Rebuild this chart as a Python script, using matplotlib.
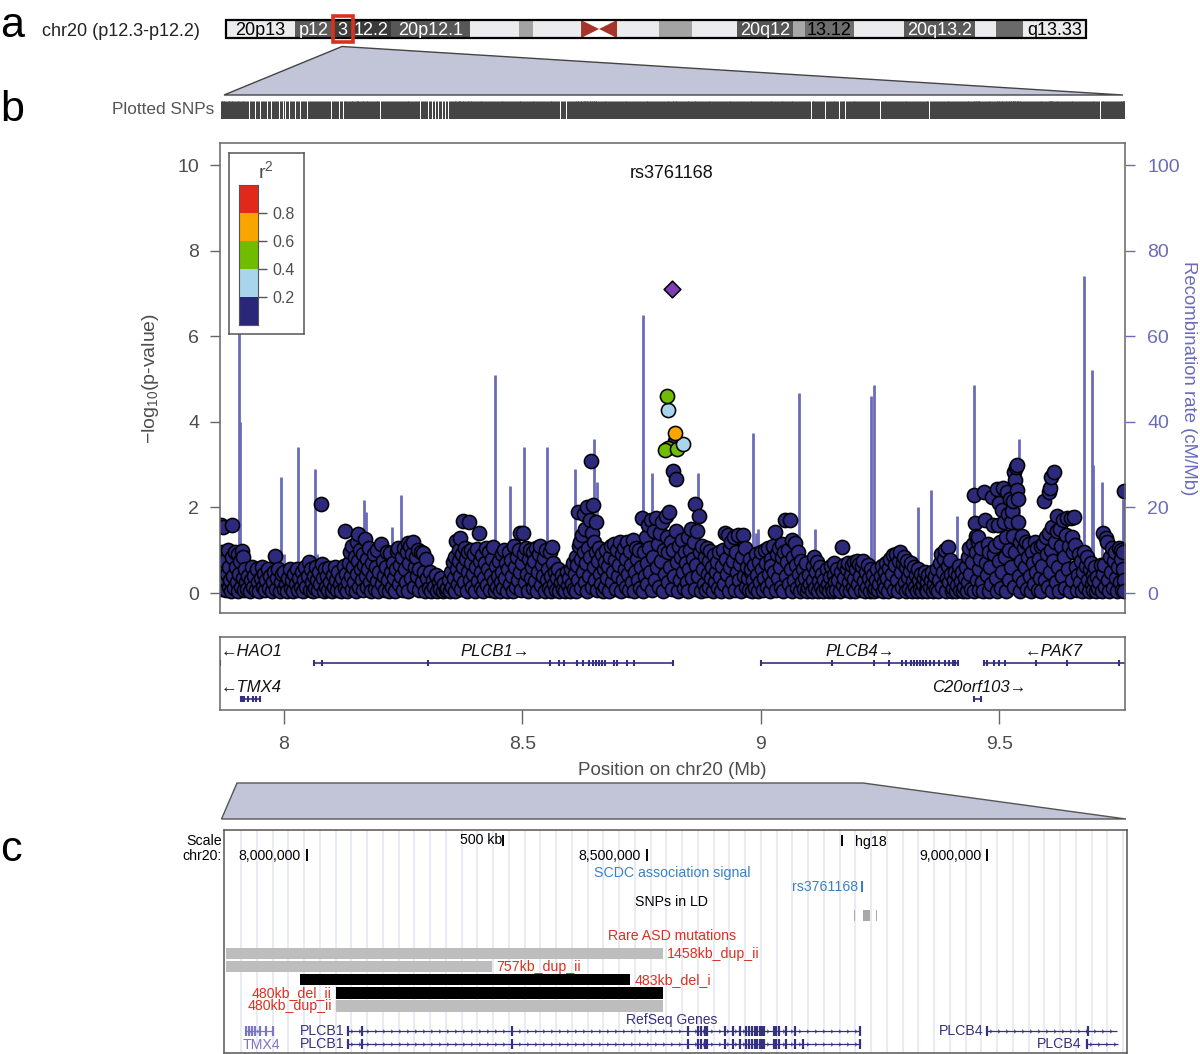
import numpy as np
import matplotlib
matplotlib.use("Agg")
import matplotlib.pyplot as plt
from matplotlib.patches import Rectangle, Polygon

plt.rcParams['font.family'] = ['Liberation Sans', 'DejaVu Sans']
plt.rcParams['mathtext.fontset'] = 'custom'
plt.rcParams['mathtext.rm'] = 'Liberation Sans'
plt.rcParams['mathtext.it'] = 'Liberation Sans:italic'

W, H = 1200, 1054

# ---------- data ----------
snps_1 = [(7.867,1.6),(7.869,.95),(7.870,.35),(7.871,.1),(7.872,1.54),(7.874,.6),(7.875,.25),(7.877,.75),(7.879,.08),(7.880,.45),(7.882,1.0),(7.884,.15),(7.885,.6),(7.887,.3),(7.889,.05),(7.891,1.59),(7.892,.85),(7.894,.4),(7.896,.12),(7.897,.95),(7.899,.6),(7.901,.25),(7.903,.05),(7.904,.9),(7.906,.45),(7.908,.75),(7.910,.15),(7.912,.98),(7.913,.35),(7.915,.85),(7.917,.08),(7.919,.55),(7.921,.25),(7.923,.1),(7.925,.4),(7.928,.05),(7.930,.3),(7.933,.6),(7.935,.15),(7.938,.4),(7.941,.08),(7.943,.55),(7.946,.25),(7.948,.05),(7.951,.35),(7.953,.6),(7.956,.15),(7.958,.45),(7.961,.08),(7.963,.3),(7.966,.55),(7.968,.12),(7.971,.4),(7.974,.05),(7.976,.25),(7.979,.5),(7.981,.86),(7.983,.1),(7.986,.35),(7.988,.55),(7.991,.05),(7.993,.25),(7.996,.45),(7.999,.1),(8.001,.5),(8.004,.2),(8.006,.05),(8.009,.35),(8.012,.55),(8.014,.12),(8.017,.3),(8.019,.05),(8.022,.45),(8.025,.2),(8.027,.55),(8.030,.08),(8.032,.35),(8.035,.15),(8.037,.5),(8.040,.05),(8.042,.3),(8.045,.6),(8.047,.15),(8.050,.4),(8.052,.72),(8.054,.08),(8.056,.55),(8.059,.25)]
snps_2 = [(8.061,.05),(8.063,.4),(8.065,.12),(8.067,.6),(8.069,.3),(8.071,.08),(8.073,.5),(8.075,.2),(8.077,2.08),(8.079,.68),(8.081,.35),(8.083,.05),(8.086,.55),(8.088,.15),(8.090,.4),(8.093,.08),(8.095,.58),(8.097,.25),(8.100,.05),(8.102,.42),(8.105,.15),(8.107,.6),(8.110,.3),(8.112,.08),(8.114,.5),(8.117,.2),(8.119,.05),(8.122,.35),(8.125,.62),(8.127,1.45),(8.128,.12),(8.130,.45),(8.133,.05),(8.135,.25),(8.137,.7),(8.139,.95),(8.140,.4),(8.142,.1),(8.143,1.1),(8.145,.6),(8.147,.25),(8.148,.85),(8.150,.05),(8.152,1.2),(8.153,.45),(8.155,1.38),(8.156,.75),(8.158,.15),(8.160,1.0),(8.161,.55),(8.163,.3),(8.165,.9),(8.166,.08),(8.168,.65),(8.170,1.26),(8.171,.4),(8.173,.8),(8.175,.15),(8.177,.55),(8.178,1.05),(8.180,.25),(8.182,.05),(8.184,.7),(8.186,.4),(8.188,.9),(8.190,.1),(8.192,.6),(8.194,.28),(8.196,1.0),(8.198,.05),(8.200,.5),(8.203,1.14),(8.205,.2),(8.207,.75),(8.209,.4),(8.212,.08),(8.214,.6),(8.216,.95),(8.218,.3),(8.220,.05),(8.222,.93),(8.224,.5),(8.226,.15),(8.228,.7),(8.231,.35),(8.233,.05),(8.235,.55),(8.237,.98),(8.239,1.05),(8.241,.2),(8.243,.65),(8.245,.4),(8.247,.85),(8.249,.08),(8.251,1.05),(8.253,.55),(8.255,.25),(8.257,.95),(8.260,1.17),(8.261,.05),(8.263,.7),(8.265,1.1),(8.267,.35),(8.269,.9),(8.270,1.19),(8.272,.15),(8.274,.6),(8.276,.85),(8.278,.4),(8.280,1.0),(8.282,.08),(8.284,.55),(8.287,.95),(8.289,.25),(8.291,.93),(8.293,.5),(8.295,.05),(8.298,.8),(8.300,.35)]
snps_3 = [(8.303,.12),(8.306,.5),(8.309,.05),(8.312,.3),(8.315,.15),(8.318,.42),(8.321,.05),(8.324,.25),(8.327,.1),(8.330,.36),(8.333,.05),(8.336,.2),(8.339,.08),(8.342,.12),(8.345,.3),(8.348,.05),(8.350,.5),(8.352,.15),(8.354,.72),(8.356,.35),(8.358,.85),(8.359,.05),(8.361,1.22),(8.362,.55),(8.364,.2),(8.366,.75),(8.367,1.0),(8.369,1.28),(8.370,.4),(8.372,.1),(8.373,.9),(8.375,1.68),(8.376,.6),(8.378,.25),(8.380,1.05),(8.381,.8),(8.383,.05),(8.385,.5),(8.386,.95),(8.388,1.66),(8.389,.3),(8.391,.7),(8.393,1.0),(8.394,.15),(8.396,.45),(8.398,.9),(8.400,.05),(8.402,.6),(8.404,1.02),(8.406,.28),(8.409,1.4),(8.410,.75),(8.412,.12),(8.414,.5),(8.416,.88),(8.418,.05),(8.420,.35),(8.422,.7),(8.424,1.05),(8.426,.18),(8.428,.55),(8.430,.95),(8.432,.08),(8.434,.42),(8.436,.8),(8.438,1.07),(8.440,.28),(8.442,.05),(8.444,.62),(8.446,.15),(8.448,.4),(8.450,.75),(8.452,.05),(8.454,.25),(8.456,.9),(8.458,.5),(8.460,.12),(8.462,1.0),(8.464,.35),(8.466,.7),(8.468,.05),(8.470,.55),(8.472,.95),(8.474,.2),(8.476,.78),(8.478,.4),(8.480,.05),(8.482,1.1),(8.484,.6),(8.486,.15),(8.488,.85),(8.490,.3),(8.492,1.0),(8.494,.5),(8.495,1.4),(8.497,.08),(8.499,.7),(8.501,1.4),(8.503,.92),(8.505,.25),(8.507,1.05),(8.509,.45),(8.511,.05),(8.513,.8),(8.515,1.0),(8.517,.35),(8.519,.6),(8.521,.12),(8.523,.95),(8.525,.75),(8.527,.28),(8.529,1.05),(8.531,.05),(8.533,.5),(8.535,.9),(8.537,1.1),(8.539,.18),(8.541,.65),(8.543,.4),(8.545,.82),(8.547,.05),(8.549,1.0),(8.551,.3)]
snps_4 = [(8.553,.55),(8.555,.12),(8.557,.95),(8.559,.4),(8.560,.05),(8.562,1.07),(8.564,.7),(8.566,.2),(8.568,.5),(8.570,.08),(8.572,.35),(8.575,.55),(8.577,.05),(8.580,.25),(8.582,.42),(8.585,.1),(8.588,.3),(8.590,.05),(8.593,.5),(8.595,.18),(8.598,.36),(8.600,.05),(8.602,.55),(8.604,.22),(8.606,.7),(8.608,.1),(8.610,.45),(8.612,.85),(8.613,.05),(8.615,.65),(8.616,1.9),(8.617,.3),(8.619,1.1),(8.620,1.2),(8.622,.8),(8.623,.12),(8.625,1.35),(8.626,.5),(8.628,.95),(8.629,1.85),(8.630,.25),(8.632,1.5),(8.633,.7),(8.635,2.0),(8.636,.05),(8.638,1.05),(8.639,.4),(8.641,1.7),(8.642,.85),(8.644,3.08),(8.645,.15),(8.646,1.4),(8.648,2.05),(8.649,.6),(8.650,1.2),(8.652,.3),(8.654,1.66),(8.655,.95),(8.656,.08),(8.658,.75),(8.660,1.05),(8.662,.45),(8.664,.2),(8.666,.9),(8.668,.05),(8.670,.55),(8.672,.72),(8.674,.15),(8.676,1.0),(8.678,.35),(8.680,.62),(8.682,.05),(8.684,.85),(8.686,1.1),(8.688,.25),(8.690,.5),(8.692,1.15),(8.694,.78),(8.696,.1),(8.698,1.0),(8.700,.4),(8.702,.65),(8.704,1.18),(8.706,.05),(8.708,.9),(8.710,.3),(8.712,1.05),(8.714,.55),(8.716,.15),(8.718,.8),(8.720,1.2),(8.722,.45),(8.724,.08),(8.726,.98),(8.728,.65),(8.730,.25),(8.732,1.25),(8.734,.05),(8.736,.5),(8.738,1.05),(8.740,.8),(8.742,.3),(8.744,1.0),(8.746,.12),(8.748,.6),(8.750,1.75),(8.752,.05),(8.754,.95),(8.756,.4),(8.758,1.3),(8.760,.7),(8.762,.2),(8.764,1.6),(8.766,1.05),(8.768,.5),(8.770,1.7),(8.772,.08),(8.774,.85),(8.776,1.45),(8.778,.3),(8.780,1.75),(8.782,.6),(8.784,1.15),(8.786,.15),(8.788,1.4),(8.790,.75),(8.792,1.65),(8.794,.05),(8.796,1.0),(8.798,.45),(8.800,1.8),(8.802,1.3)]
snps_5 = [(8.804,.25),(8.806,.95),(8.808,1.9),(8.810,.6),(8.812,1.2),(8.813,.1),(8.815,2.85),(8.816,1.0),(8.818,.4),(8.820,3.55),(8.821,2.66),(8.822,1.45),(8.824,.72),(8.826,.05),(8.828,1.1),(8.830,.3),(8.832,.85),(8.834,1.25),(8.836,.5),(8.838,.12),(8.840,.95),(8.842,.7),(8.844,.25),(8.846,1.3),(8.848,.05),(8.850,.55),(8.852,1.0),(8.853,1.5),(8.855,.35),(8.857,.8),(8.859,1.2),(8.861,.1),(8.862,2.08),(8.864,.65),(8.866,1.45),(8.868,.4),(8.870,1.8),(8.872,.95),(8.874,.05),(8.876,1.1),(8.878,.55),(8.880,.22),(8.882,.85),(8.884,.08),(8.886,1.05),(8.888,.45),(8.890,.75),(8.892,.15),(8.894,.98),(8.896,.35),(8.898,.6),(8.900,.05),(8.902,.88),(8.904,.25),(8.906,.5),(8.908,.72),(8.910,.12),(8.912,.95),(8.914,.38),(8.916,.05),(8.918,.62),(8.920,1.0),(8.922,.2),(8.924,1.4),(8.926,.8),(8.928,.45),(8.930,1.35),(8.932,.05),(8.934,1.05),(8.936,.6),(8.938,1.2),(8.940,.25),(8.942,.75),(8.944,1.3),(8.946,.08),(8.948,.95),(8.950,.5),(8.952,1.35),(8.954,.3),(8.956,.68),(8.958,.05),(8.960,.85),(8.962,1.35),(8.964,.4),(8.966,1.05),(8.968,.15),(8.970,.6),(8.972,.35),(8.974,.08),(8.976,.8),(8.978,.5),(8.980,.55),(8.982,.05),(8.984,.3),(8.986,.65),(8.988,.12),(8.990,.9),(8.992,.42),(8.994,.05),(8.996,.72),(8.998,.25)]
snps_6 = [(9.000,.95),(9.002,.55),(9.004,.08),(9.006,.35),(9.008,1.0),(9.010,.7),(9.012,.15),(9.014,1.05),(9.016,.45),(9.018,.05),(9.020,.8),(9.022,.62),(9.024,.25),(9.026,1.1),(9.028,.5),(9.029,1.43),(9.031,.08),(9.033,.9),(9.035,.35),(9.037,1.05),(9.039,.6),(9.041,.15),(9.043,.85),(9.045,1.15),(9.047,.05),(9.049,.95),(9.051,1.7),(9.053,.4),(9.055,.72),(9.057,1.0),(9.059,.22),(9.060,1.7),(9.062,.55),(9.064,1.25),(9.066,.05),(9.068,.85),(9.070,.3),(9.072,1.17),(9.074,.65),(9.076,.12),(9.078,.95),(9.080,.45),(9.082,.05),(9.084,.75),(9.086,.25),(9.088,.55),(9.090,.1),(9.092,.35),(9.094,.7),(9.096,.05),(9.098,.15),(9.100,.42),(9.103,.2),(9.106,.05),(9.108,.3),(9.110,.62),(9.112,.85),(9.114,.12),(9.116,.5),(9.118,.72),(9.120,.05),(9.122,.28),(9.124,.6),(9.126,.15),(9.128,.45),(9.131,.05),(9.133,.3),(9.136,.12),(9.138,.55),(9.140,.22),(9.142,.05),(9.144,.38),(9.146,.62),(9.148,.15),(9.150,.05),(9.152,.42),(9.154,.7),(9.156,.25),(9.158,.08),(9.160,.55),(9.162,.3),(9.165,.05),(9.167,.5),(9.169,1.07),(9.171,.18),(9.173,.65),(9.175,.35),(9.178,.08),(9.180,.55),(9.182,.7),(9.184,.25),(9.186,.05),(9.188,.42),(9.190,.65),(9.192,.15),(9.194,.72),(9.196,.32),(9.198,.05),(9.200,.55),(9.202,.75),(9.204,.2),(9.206,.68),(9.208,.4),(9.210,.08),(9.212,.62),(9.214,.75),(9.216,.28),(9.218,.05),(9.220,.5),(9.222,.15),(9.224,.65),(9.226,.35),(9.228,.05),(9.230,.55),(9.232,.22),(9.234,.42),(9.236,.05),(9.238,.12),(9.241,.3),(9.244,.55),(9.246,.08),(9.248,.2)]
snps_7 = [(9.251,.4),(9.253,.62),(9.255,.05),(9.257,.25),(9.259,.5),(9.261,.12),(9.263,.7),(9.265,.35),(9.267,.05),(9.269,.58),(9.271,.8),(9.273,.2),(9.275,.45),(9.277,.88),(9.279,.08),(9.281,.65),(9.283,.92),(9.285,.3),(9.287,.05),(9.289,.75),(9.291,.95),(9.293,.5),(9.295,.15),(9.297,.7),(9.299,.85),(9.301,.25),(9.303,.05),(9.305,.6),(9.307,.75),(9.309,.38),(9.311,.1),(9.313,.52),(9.315,.7),(9.317,.05),(9.319,.28),(9.321,.6),(9.323,.15),(9.325,.42),(9.327,.05),(9.329,.55),(9.331,.3),(9.333,.1),(9.335,.45),(9.337,.05),(9.339,.2),(9.341,.35),(9.343,.5),(9.345,.08),(9.347,.25),(9.349,.05),(9.351,.42),(9.354,.15),(9.356,.3),(9.358,.5),(9.360,.05),(9.362,.22),(9.364,.4),(9.367,.1),(9.369,.55),(9.371,.05),(9.373,.3),(9.375,.7),(9.377,.9),(9.379,.15),(9.381,.5),(9.383,.8),(9.385,1.0),(9.387,.05),(9.389,.35),(9.391,.62),(9.393,1.07),(9.395,.25),(9.397,.78),(9.399,.45),(9.401,.05),(9.403,.12),(9.405,.3),(9.407,.5),(9.409,.05),(9.411,.18),(9.413,.42),(9.415,.62),(9.417,.08),(9.419,.28),(9.421,.5),(9.423,.05),(9.425,.15),(9.427,.35),(9.429,.6),(9.431,.05),(9.433,.25),(9.435,.85),(9.437,1.05),(9.439,.45),(9.441,.1),(9.443,.72),(9.445,1.15),(9.446,.05),(9.447,2.29),(9.448,1.63),(9.450,1.33),(9.451,.95),(9.452,.3),(9.454,1.2),(9.455,1.3),(9.456,.55),(9.458,.08),(9.460,.8),(9.462,1.05),(9.464,.25),(9.466,.05),(9.467,2.36),(9.469,1.7),(9.471,.7),(9.473,.42),(9.475,1.15),(9.477,.05),(9.479,.95),(9.481,.6),(9.483,.2),(9.485,2.25),(9.486,1.6),(9.488,.9),(9.490,1.1),(9.492,.35),(9.494,.05),(9.495,2.43),(9.496,1.6),(9.498,.75),(9.500,2.1)]
snps_8 = [(9.502,1.2),(9.503,.12),(9.505,1.95),(9.506,.5),(9.508,2.45),(9.509,1.66),(9.511,.85),(9.513,1.3),(9.514,.05),(9.516,2.35),(9.517,1.85),(9.519,1.0),(9.520,.3),(9.522,2.2),(9.524,1.66),(9.525,.6),(9.527,1.92),(9.528,2.15),(9.529,1.33),(9.530,.15),(9.531,2.83),(9.532,2.65),(9.533,.95),(9.534,2.95),(9.536,3.0),(9.537,2.4),(9.538,2.2),(9.539,1.66),(9.540,.4),(9.542,1.2),(9.544,.05),(9.546,.75),(9.548,1.33),(9.550,.25),(9.552,1.05),(9.554,.6),(9.556,1.2),(9.558,.1),(9.560,.85),(9.562,1.15),(9.564,.4),(9.566,.05),(9.568,.95),(9.570,.7),(9.572,.22),(9.574,1.2),(9.576,.5),(9.578,1.05),(9.580,.08),(9.582,.8),(9.584,.35),(9.586,1.1),(9.588,.05),(9.590,.62),(9.592,1.14),(9.593,2.15),(9.595,.3),(9.597,1.3),(9.599,.9),(9.601,.15),(9.603,1.4),(9.604,2.36),(9.605,.5),(9.606,2.45),(9.607,1.0),(9.608,2.7),(9.610,.05),(9.611,1.55),(9.613,.75),(9.614,2.83),(9.616,1.2),(9.618,.25),(9.620,1.45),(9.621,1.8),(9.623,.6),(9.625,.05),(9.627,1.5),(9.629,1.1),(9.631,.4),(9.633,1.7),(9.635,.85),(9.637,.12),(9.639,1.35),(9.641,1.75),(9.643,.55),(9.645,1.1),(9.647,.05),(9.649,1.75),(9.651,1.3),(9.653,.3),(9.655,.95),(9.657,1.78),(9.659,1.12),(9.661,.6),(9.663,.08),(9.665,.42),(9.667,.9),(9.669,.25),(9.671,.75),(9.673,.05),(9.675,.5),(9.677,.95),(9.679,.15),(9.681,.62),(9.683,.85),(9.685,.3),(9.687,.05),(9.689,.55),(9.691,.7),(9.693,.2),(9.695,.42),(9.697,.08),(9.699,.3),(9.701,.6),(9.703,.05),(9.705,.38),(9.707,.12),(9.709,.25),(9.712,.65),(9.714,.05),(9.716,.45),(9.718,1.4),(9.720,.65),(9.722,.15),(9.724,1.28),(9.726,1.19),(9.728,.3),(9.730,.05),(9.732,.85),(9.734,.5),(9.736,1.05),(9.738,.12),(9.740,.75),(9.742,.95),(9.744,.35),(9.746,.05),(9.748,.6),(9.750,1.05),(9.752,.25),(9.754,.8),(9.755,1.0),(9.756,.08),(9.758,.55),(9.759,.95),(9.760,.3),(9.761,.05),(9.762,2.38)]

r2_pos  = [8.813, 8.803, 8.804, 8.820, 8.836, 8.824, 8.799, 8.805]
r2_logp = [7.1, 4.6, 4.28, 3.74, 3.48, 3.36, 3.35, 3.38]
r2_cat  = ['lead', 'mid', 'low', 'high', 'low', 'mid', 'mid', 'mid']

recomb_pos = [7.906,7.907,7.994,8.000,8.029,8.065,8.069,8.168,8.171,8.226,8.245,8.442,8.473,8.475,8.503,8.551,8.610,8.649,8.656,8.753,8.771,8.868,8.983,8.990,8.994,9.080,9.113,9.230,9.237,9.329,9.356,9.411,9.447,9.541,9.677,9.694,9.696,9.715,9.758]
recomb_rate = [73,40,27,9,34,29,9,21.7,19,15.5,23,51,25,12,34,34,29,36,26,65,28,28,37.5,14,15,46.7,15,46,48.5,20,24,18,48.6,36,74,52,30,26,22]

genes_north = [("HAO1", 7.866, 7.867, [7.866]),
               ("PLCB1", 8.063, 8.815, [8.063,8.079,8.302,8.558,8.577,8.587,8.614,8.627,8.639,8.648,8.654,8.660,8.667,8.673,8.692,8.699,8.719,8.734,8.815]),
               ("PLCB4", 9.000, 9.412, [9.000,9.148,9.237,9.268,9.296,9.304,9.314,9.321,9.327,9.334,9.340,9.346,9.355,9.362,9.374,9.386,9.395,9.402,9.407,9.412]),
               ("PAK7", 9.467, 9.763, [9.467,9.474,9.489,9.499,9.511,9.576,9.642,9.750])]
genes_south = [("TMX4", 7.909, 7.950, [7.909,7.913,7.917,7.925,7.934,7.941,7.950]),
               ("C20orf103", 9.447, 9.461, [9.447,9.461])]
gene_labels = ["\u2190HAO1", "PLCB1\u2192", "PLCB4\u2192", "\u2190PAK7", "\u2190TMX4", "C20orf103\u2192"]
gene_label_x = [7.868, 8.369, 9.136, 9.553, 7.868, 9.358]

band_edges = [0,5.0,7.76,9.14,11.97,17.7,21.26,22.28,25.76,28.37,31.42,33.81,37.08,41.14,42.01,45.57,49.2,54.35,55.87,57.83,62.4]
band_colors = ['#ececee','#5c5c5c','#3f3f3f','#3a3a3a','#575757','#ececee','#a3a3a3','#ececee','#ffffff','#ececee','#a3a3a3','#ececee','#555555','#a8a8a8','#6e6e6e','#ececee','#5a5a5a','#ececee','#6a6a6a','#ececee']
band_names = ['20p13','p12','3','12.2','20p12.1','','','','','','','','20q12','','13.12','','20q13.2','','','q13.33']
band_text = ['black','white','white','white','white','k','k','k','k','k','k','k','white','k','black','k','white','k','k','black']

cnv_names = ['1458kb_dup_ii','757kb_dup_ii','483kb_del_i','480kb_del_ii','480kb_dup_ii']
cnv_start = [7.8815,7.8815,7.9906,8.043,8.043]
cnv_end   = [8.5235,8.272,8.4755,8.5235,8.5235]
cnv_color = ['#bdbdbd','#bdbdbd','#000000','#000000','#bdbdbd']

plcb1_c_exons = [8.0611,8.0808,8.3016,8.5602,8.5749,8.5793,8.5852,8.5881,8.6146,8.6264,8.6367,8.6455,8.650,8.6543,8.659,8.6615,8.666,8.669,8.672,8.6866,8.690,8.694,8.7042,8.7174,8.8129]
tmx4_c_exons  = [7.9104,7.9148,7.9192,7.924,7.9314,7.9402,7.95]
ld_snp_start  = [8.804,8.818,8.8365]
ld_snp_end    = [8.8055,8.827,8.838]
scale_marks   = [8.0,8.5,9.0]
scale_labels  = ['8,000,000','8,500,000','9,000,000']

legend_edges = [0,.2,.4,.6,.8,1.0]
legend_cols  = ['#2a2778','#a8d5ec','#70bc00','#f9a500','#e2281b']

# ---------- helpers ----------
GREY = '#666666'; TXT = '#4d4d4d'; BLUE = '#6b6bb9'; NAVY = '#2d2a7c'
SHADE = '#c2c5d8'; RED = '#d9301f'; GENE = '#35307f'

fig = plt.figure(figsize=(W/100, H/100), dpi=100, facecolor='white')

def px_axes(l, t, r, b, **kw):
    return fig.add_axes([l/W, 1-b/H, (r-l)/W, (b-t)/H], **kw)

# overlay in pixels for annotations / connectors
ov = px_axes(0, 0, W, H, zorder=0)
ov.set_xlim(0, W); ov.set_ylim(H, 0); ov.axis('off')
for s, y in zip('abc', [26, 110, 850]):
    ov.text(0, y, s, fontsize=31, va='center', ha='left', color='black')
ov.text(42, 31, 'chr20 (p12.3-p12.2)', fontsize=13, va='center', color='#222222')
ov.text(214, 110, 'Plotted SNPs', fontsize=12.4, va='center', ha='right', color='#555555')
ov.add_patch(Polygon([(342, 46.5), (1123, 95), (224, 95)], closed=True, fc=SHADE, ec='#444444', lw=1))
ov.add_patch(Polygon([(237, 783), (863, 783), (1126, 819), (221.5, 819)], closed=True, fc=SHADE, ec='#555555', lw=1))

# ---------- a: ideogram ----------
id_ax = px_axes(226, 20, 1086, 38, zorder=2)
id_ax.set_xlim(0, 62.4); id_ax.set_ylim(0, 1); id_ax.axis('off')
id_ax.barh(0.5, np.diff(band_edges), left=band_edges[:-1], height=1, color=band_colors, linewidth=0)
for i, n in enumerate(band_names):
    if n:
        c = (band_edges[i]+band_edges[i+1])/2
        id_ax.text(c, 0.42, n, ha='center', va='center', fontsize=13, color=band_text[i], clip_on=True)
id_ax.add_patch(Polygon([(25.76, 1), (27.07, 0.5), (25.76, 0)], closed=True, fc='#a5352b', ec='none'))
id_ax.add_patch(Polygon([(28.37, 1), (27.07, 0.5), (28.37, 0)], closed=True, fc='#a5352b', ec='none'))
id_ax.add_patch(Rectangle((0, 0), 62.4, 1, fill=False, ec='black', lw=1.6, clip_on=False))
id_ax.add_patch(Rectangle((7.76, -0.22), 1.44, 1.44, fill=False, ec=RED, lw=2.6, clip_on=False, zorder=5))

# ---------- b: rug ----------
all_snps = snps_1+snps_2+snps_3+snps_4+snps_5+snps_6+snps_7+snps_8
snp_x = np.array([p[0] for p in all_snps]); snp_y = np.array([p[1] for p in all_snps])

XL = (8+(220-284)/477, 8+(1125-284)/477)
rug = px_axes(220, 100.5, 1125, 118.5, zorder=2)
rug.set_xlim(*XL); rug.set_ylim(0, 1); rug.axis('off')
rug.vlines(snp_x, 0, 1, color='#454545', lw=0.72)

# ---------- b: main ----------
YL = ((593-613)/42.8, (593-143)/42.8)
ax = px_axes(220, 143, 1125, 613, zorder=3)
ax.set_xlim(*XL); ax.set_ylim(*YL)
ax.vlines(recomb_pos, 0, np.array(recomb_rate)/10, color=BLUE, lw=2.0, zorder=1)
ax.scatter(snp_x, snp_y, s=104, c=NAVY, edgecolors='black', linewidths=1.15, zorder=2, clip_on=True)
cmap = {'low': '#a8d5ec', 'mid': '#70bc00', 'high': '#f9a500', 'lead': '#7d3fb5'}
for x, y, k in zip(r2_pos[::-1], r2_logp[::-1], r2_cat[::-1]):
    ax.scatter([x], [y], s=104 if k != 'lead' else 72, c=cmap[k], marker='D' if k == 'lead' else 'o',
               edgecolors='black', linewidths=1.15, zorder=3)
ax.set_yticks(range(0, 11, 2)); ax.set_xticks([])
ax.tick_params(axis='y', length=7, width=1, color=GREY, labelcolor=TXT, labelsize=14, pad=8)
for s in ax.spines.values():
    s.set_color(GREY); s.set_linewidth(1.1)
ax.set_ylabel('\u2212log$_{10}$(p-value)', fontsize=14, color=TXT, labelpad=12)
ax.text(8.813, 9.79, 'rs3761168', ha='center', va='center', fontsize=13, color='#111111')
ax2 = ax.twinx()
ax2.set_ylim(YL[0]*10, YL[1]*10)
ax2.set_yticks(range(0, 101, 20))
ax2.tick_params(axis='y', length=7, width=1, color=BLUE, labelcolor=BLUE, labelsize=14, pad=9)
for s in ax2.spines.values():
    s.set_visible(False)
ax2.set_ylabel('Recombination rate (cM/Mb)', fontsize=13.4, color=BLUE, rotation=270, labelpad=17)
ax2.yaxis.set_label_coords(1.0795, 0.5)

# ---------- legend ----------
lg = px_axes(229, 153, 304, 334, zorder=6, facecolor='white')
lg.set_xlim(229, 304); lg.set_ylim(334, 153); lg.set_xticks([]); lg.set_yticks([])
for s in lg.spines.values():
    s.set_color('#555555'); s.set_linewidth(1.1)
lg.text(266, 171, 'r$^2$', fontsize=14, ha='center', va='center', color=TXT)
cb = px_axes(239, 184.5, 258, 325, zorder=7)
cb.set_xlim(0, 1); cb.set_ylim(0, 1)
cb.bar(0.5, np.diff(legend_edges), bottom=legend_edges[:-1], width=1, color=legend_cols, linewidth=0)
cb.set_xticks([]); cb.set_yticks(legend_edges[1:-1])
cb.yaxis.tick_right()
cb.set_yticklabels(['0.2', '0.4', '0.6', '0.8'])
cb.tick_params(axis='y', length=6.5, width=1, color='#555555', labelcolor=TXT, labelsize=11.5, pad=4)
for s in cb.spines.values():
    s.set_color('#555555'); s.set_linewidth(0.8)

# ---------- b: genes ----------
g = px_axes(220, 637, 1125, 710, zorder=2)
g.set_xlim(*XL); g.set_ylim(73, 0)
for row, y in ((genes_north, 25.7), (genes_south, 62)):
    for name, a, b, ex in row:
        g.hlines(y, a, b, color=GENE, lw=1.2)
        g.vlines(ex, y-3, y+3, color=GENE, lw=1.5)
for t, x, y in zip(gene_labels, gene_label_x, [14.5, 14.5, 14.5, 14.5, 50, 50]):
    g.text(x, y, t, style='italic', fontsize=12, va='center', ha='left', color='#111111')
g.set_xticks([8, 8.5, 9, 9.5]); g.set_xticklabels(['8', '8.5', '9', '9.5'])
g.set_yticks([])
g.tick_params(axis='x', length=10, width=1, color=GREY, labelcolor=TXT, labelsize=14, pad=9)
for s in g.spines.values():
    s.set_color(GREY); s.set_linewidth(1.1)
g.set_xlabel('Position on chr20 (Mb)', fontsize=13.5, color=TXT, labelpad=6)

# ---------- c: UCSC ----------
c = px_axes(224, 830, 1126.7, 1053, zorder=2)
c.set_xlim(8+(224-306.7)/680.6, 8+(1126.7-306.7)/680.6); c.set_ylim(1053, 830)
c.set_xticks([]); c.set_yticks([])
for s in c.spines.values():
    s.set_color('#555555'); s.set_linewidth(1.1)
c.vlines(np.arange(7.9035, 9.21, 15.75/680.6), 830, 1053, color='#e3e5f1', lw=1.1, zorder=0)
for m, l in zip(scale_marks, scale_labels):
    c.vlines(m, 849, 861, color='black', lw=1.4)
    c.annotate(l, (m, 856), xytext=(-4.5, 0), textcoords='offset points', ha='right', va='center', fontsize=10.2, color='black')
c.vlines([8.2885, 8.7865], 835, 846, color='black', lw=1.4)
c.text(8.2885-0.0015, 840.5, '500 kb', ha='right', va='center', fontsize=10.2, color='black')
c.text(8.8055, 842, 'hg18', ha='left', va='center', fontsize=10.2, color='black')
c.text(8.5365, 873, 'SCDC association signal', ha='center', va='center', fontsize=10.2, color='#3a80c2')
c.text(8.810, 887, 'rs3761168', ha='right', va='center', fontsize=10.2, color='#3a80c2')
c.vlines(8.8155, 881, 892, color='#3a80c2', lw=1.5)
c.text(8.5365, 902, 'SNPs in LD', ha='center', va='center', fontsize=10.2, color='black')
for a, b in zip(ld_snp_start, ld_snp_end):
    c.axvspan(a, b, ymin=(1053-921)/223, ymax=(1053-910)/223, color='#a9a9a9', lw=0)
c.text(8.5365, 936, 'Rare ASD mutations', ha='center', va='center', fontsize=10.2, color=RED)
tops = [947.7, 960.7, 973.7, 987, 1000]
c.barh([t+5.8 for t in tops], np.array(cnv_end)-np.array(cnv_start), left=cnv_start, height=11.6, color=cnv_color, linewidth=0, zorder=1)
c.annotate(cnv_names[0], (cnv_end[0], 954), xytext=(3, 0), textcoords='offset points', ha='left', va='center', fontsize=10.2, color=RED)
c.annotate(cnv_names[1], (cnv_end[1], 967), xytext=(3.5, 0), textcoords='offset points', ha='left', va='center', fontsize=10.2, color=RED)
c.annotate(cnv_names[2], (cnv_end[2], 980), xytext=(3, 0), textcoords='offset points', ha='left', va='center', fontsize=10.2, color=RED)
c.annotate(cnv_names[3], (cnv_start[3], 993), xytext=(-3, 0), textcoords='offset points', ha='right', va='center', fontsize=10.2, color=RED)
c.annotate(cnv_names[4], (cnv_start[4], 1006), xytext=(-3, 0), textcoords='offset points', ha='right', va='center', fontsize=10.2, color=RED)
c.text(8.5365, 1020, 'RefSeq Genes', ha='center', va='center', fontsize=10, color=GENE)

def draw_gene(a, b, y, exons, col=GENE):
    c.hlines(y, a, b, color=col, lw=0.9)
    c.plot(np.arange(a+0.006, b, 8/680.6), np.full(len(np.arange(a+0.006, b, 8/680.6)), y), ls='', marker='4', ms=3.2, mew=0.7, color=col)
    c.vlines(exons, y-5, y+5, color=col, lw=1.6)

draw_gene(plcb1_c_exons[0], plcb1_c_exons[-1], 1031, plcb1_c_exons)
draw_gene(plcb1_c_exons[0], plcb1_c_exons[-1], 1044, plcb1_c_exons + [8.7293])
draw_gene(tmx4_c_exons[0], tmx4_c_exons[-1], 1031, tmx4_c_exons, '#7b74c8')
draw_gene(9.0, 9.19, 1031, [9.0, 9.148])
draw_gene(9.146, 9.192, 1044, [9.146])
for lab, x, y, ha, col in [('PLCB1', 8.0555, 1031, 'right', GENE), ('PLCB1', 8.0555, 1044, 'right', GENE),
                           ('TMX4', 7.9335, 1045, 'center', '#7b74c8'), ('PLCB4', 8.9945, 1031, 'right', GENE),
                           ('PLCB4', 9.1385, 1044, 'right', GENE)]:
    c.text(x, y, lab, ha=ha, va='center', fontsize=10.2, color=col)
ov_t = [('Scale', 841), ('chr20:', 856)]
for t, y in ov_t:
    ov.text(222, y, t, ha='right', va='center', fontsize=10.2, color='black')

fig.savefig('out.png', dpi=100, facecolor='white')
